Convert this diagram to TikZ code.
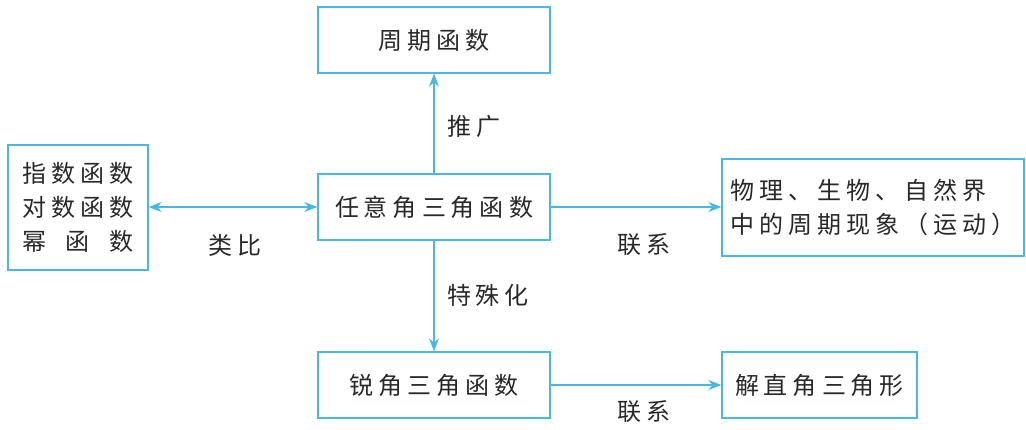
\documentclass[tikz,border=0pt]{standalone}
\usepackage{fontspec}
\usepackage{calc}
\newfontfamily\cjk{Noto Sans CJK SC}[Scale=1]
\usetikzlibrary{arrows.meta}
\definecolor{lineblue}{RGB}{70,184,230}
\definecolor{txt}{RGB}{40,40,40}
\makeatletter
\newcommand\spc[1]{\begingroup\let\mysep\relax\@tfor\mych:=#1\do{\mysep\mych\def\mysep{\kern5pt}}\endgroup}
\makeatother
\tikzset{
  box/.style={draw=lineblue, line width=1.3pt, minimum height=66pt, inner sep=0pt, font=\cjk\fontsize{24}{34}\selectfont, text=txt},
  lbl/.style={font=\cjk\fontsize{24}{34}\selectfont, text=txt, inner sep=0pt},
  conn/.style={draw=lineblue, line width=1.3pt, -{Stealth[length=13pt,width=10pt]}},
  conn2/.style={draw=lineblue, line width=1.3pt, {Stealth[length=13pt,width=10pt]}-{Stealth[length=13pt,width=10pt]}}
}
\begin{document}
\begin{tikzpicture}[x=1pt,y=1pt]
\useasboundingbox (0,0) rectangle (1026,429);
\node[box, minimum width=232pt] (top) at (434,389) {\spc{周期函数}};
\node[box, minimum width=232pt] (mid) at (434,222) {\spc{任意角三角函数}};
\node[box, minimum width=232pt] (bot) at (434,44) {\spc{锐角三角函数}};
\node[box, minimum width=140pt, minimum height=125pt, align=center] (left) at (78,221.5)
  {\spc{指数函数}\\\spc{对数函数}\\\makebox[\widthof{\spc{指数函数}}][s]{幂\hfill 函\hfill 数}};
\node[box, minimum width=302pt, minimum height=97pt, align=left] (right) at (873,221.5)
  {\spc{物理、生物、自然界}\\\spc{中的周期现象（运动）}};
\node[box, minimum width=195pt] (br) at (819.5,44) {\spc{解直角三角形}};
\draw[conn] (mid) -- (top);
\draw[conn] (mid) -- (bot);
\draw[conn2] (left.east |- mid) -- (mid.west);
\draw[conn] (mid.east) -- (right.west |- mid);
\draw[conn] (bot) -- (br);
\node[lbl] (l1) at (474,303) {\spc{推广}};
\node[lbl] (l2) at (235,184) {\spc{类比}};
\node[lbl] (l3) at (644,184) {\spc{联系}};
\node[lbl] (l4) at (488,134) {\spc{特殊化}};
\node[lbl] (l5) at (644,17) {\spc{联系}};
\end{tikzpicture}
\end{document}
